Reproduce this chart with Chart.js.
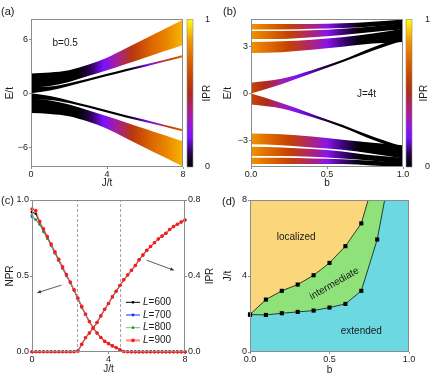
<!DOCTYPE html>
<html>
<head>
<meta charset="utf-8">
<script src="https://cdn.jsdelivr.net/npm/chart.js@4.4.1/dist/chart.umd.min.js"></script>
<style>
  html, body { margin: 0; padding: 0; background: #fff; }
  #page { position: relative; width: 436px; height: 379px; overflow: hidden; }
  canvas { position: absolute; }
</style>
</head>
<body>
<div id="page">
  <canvas id="chartA" width="218" height="190" style="left:0;top:0"></canvas>
  <canvas id="chartB" width="218" height="190" style="left:218px;top:0"></canvas>
  <canvas id="chartC" width="218" height="194" style="left:0;top:185px"></canvas>
  <canvas id="chartD" width="218" height="194" style="left:218px;top:185px"></canvas>
</div>
<script>
const AXIS = "#8c8c8c";
const TEXT = "#1a1a1a";
const FONT = "'Liberation Sans', Arial, sans-serif";

Chart.defaults.font.family = FONT;
Chart.defaults.font.size = 9;
Chart.defaults.color = TEXT;
Chart.defaults.animation = false;
Chart.defaults.devicePixelRatio = 1;

// ---------- data ----------

// IPR colour bar
const iprColours = [[0, "#000000"], [0.08, "#22003f"], [0.2, "#7a10ff"], [0.3, "#9a18d0"], [0.4, "#ad2279"],
  [0.5, "#ae2a1e"], [0.6, "#c44200"], [0.72, "#dc6400"], [0.85, "#f09400"], [1, "#ffff10"]];

// (a) spectrum against J/t, b = 0.5
const jA = [0, 1, 2, 3, 4, 5, 6, 7, 8];
const aUpperTop = [2.2, 2.3, 2.55, 3.15, 3.95, 5.0, 6.05, 7.1, 8.15];
const aUpperBot = [0.6, 0.8, 1.25, 1.9, 2.55, 3.25, 3.95, 4.65, 5.35];
const aArmTop = [0.7, 0.75, 1.1, 1.6, 2.15, 2.7, 3.2, 3.7, 4.25];
const aArmBot = [0.0, 0.3, 0.8, 1.35, 1.9, 2.45, 2.95, 3.5, 4.0];
const aLowArmTop = [0.0, -0.3, -0.8, -1.35, -1.9, -2.45, -2.95, -3.5, -4.0];
const aLowArmBot = [-0.7, -0.75, -1.1, -1.6, -2.15, -2.7, -3.2, -3.7, -4.25];
const aLowerTop = [-0.6, -0.8, -1.25, -1.9, -2.55, -3.25, -3.95, -4.65, -5.35];
const aLowerBot = [-2.2, -2.3, -2.55, -3.15, -3.95, -5.0, -6.05, -7.1, -8.15];
const jGap = [2.6, 4, 6, 8];
const aGapHi1 = [2.5, 3.45, 5.35, 7.4];
const aGapHi2 = [2.3, 3.0, 4.65, 6.5];
const aGapLo1 = [-2.5, -3.45, -5.35, -7.4];
const aGapLo2 = [-2.3, -3.0, -4.65, -6.5];
// IPR along J/t for the colours of the bands
const aBandIpr = [[0, 0], [2.5, 0], [3.2, 0.1], [3.8, 0.2], [4.5, 0.36], [5.3, 0.55], [6.3, 0.72], [7.2, 0.82], [8, 0.9]];
const aArmIpr = [[0, 0], [5.0, 0], [5.7, 0.12], [6.2, 0.22], [6.8, 0.42], [7.4, 0.6], [8, 0.74]];
const aXLabels = ["0", "4", "8"];
const aYTicks = [-6, 0, 6];

// (b) spectrum against b, J = 4t
const bB = [0, 0.2, 0.4, 0.6, 0.8, 1.0];
const bHiATop = [4.45, 4.45, 4.45, 4.5, 4.6, 4.75];
const bHiABot = [4.1, 4.1, 4.15, 4.2, 4.3, 4.45];
const bHiBTop = [4.0, 4.0, 4.05, 4.15, 4.3, 4.5];
const bHiBBot = [3.5, 3.5, 3.6, 3.75, 3.95, 4.1];
const bHiCTop = [3.3, 3.35, 3.45, 3.6, 3.85, 4.15];
const bHiCBot = [2.6, 2.65, 2.8, 3.0, 3.2, 3.3];
const bArmTop = [0.7, 0.95, 1.5, 2.15, 2.95, 3.65];
const bArmBot = [0.0, 0.6, 1.3, 2.0, 2.75, 3.4];
const bLowArmTop = [0.0, -0.6, -1.3, -2.0, -2.75, -3.4];
const bLowArmBot = [-0.7, -0.95, -1.5, -2.15, -2.95, -3.65];
const bLoCTop = [-2.55, -2.6, -2.75, -2.95, -3.15, -3.3];
const bLoCBot = [-3.25, -3.3, -3.45, -3.6, -3.85, -4.15];
const bLoBTop = [-3.4, -3.45, -3.55, -3.7, -3.95, -4.1];
const bLoBBot = [-4.0, -4.0, -4.05, -4.15, -4.3, -4.5];
const bLoATop = [-4.1, -4.1, -4.15, -4.2, -4.3, -4.45];
const bLoABot = [-4.5, -4.5, -4.5, -4.5, -4.6, -4.7];
const bBandIpr = [[0, 0.85], [0.1, 0.75], [0.25, 0.6], [0.4, 0.4], [0.5, 0.25], [0.6, 0.12], [0.72, 0], [1, 0]];
const bArmIpr = [[0, 0.62], [0.1, 0.5], [0.2, 0.35], [0.3, 0.22], [0.4, 0.15], [0.5, 0.06], [0.6, 0], [1, 0]];
const bXLabels = ["0.0", "0.5", "1.0"];
const bYTicks = [-3, 0, 3];

// (c) NPR and IPR against J/t
const jC = [0, 0.2, 0.4, 0.6, 0.8, 1.0, 1.2, 1.4, 1.6, 1.8, 2.0, 2.2, 2.4, 2.6, 2.8, 3.0, 3.2, 3.4, 3.6, 3.8, 4.0,
  4.2, 4.4, 4.6, 4.8, 5.0, 5.2, 5.4, 5.6, 5.8, 6.0, 6.2, 6.4, 6.6, 6.8, 7.0, 7.2, 7.4, 7.6, 7.8, 8.0];
const npr600 = [0.92, 0.91, 0.85, 0.805, 0.755, 0.705, 0.655, 0.605, 0.555, 0.505, 0.455, 0.405, 0.35, 0.295, 0.245,
  0.2, 0.16, 0.125, 0.095, 0.07, 0.055, 0.04, 0.028, 0.015, 0.004, 0.002, 0.001, 0.001, 0.001, 0.001, 0.001, 0.001,
  0.001, 0.001, 0.001, 0.001, 0.001, 0.001, 0.001, 0.001, 0.001];
const npr700 = [0.89, 0.87, 0.84, 0.795, 0.75, 0.70, 0.65, 0.60, 0.55, 0.50, 0.455, 0.405, 0.35, 0.295, 0.245,
  0.2, 0.16, 0.125, 0.095, 0.07, 0.055, 0.04, 0.028, 0.015, 0.004, 0.002, 0.001, 0.001, 0.001, 0.001, 0.001, 0.001,
  0.001, 0.001, 0.001, 0.001, 0.001, 0.001, 0.001, 0.001, 0.001];
const npr800 = [0.90, 0.87, 0.84, 0.79, 0.745, 0.70, 0.65, 0.60, 0.55, 0.505, 0.455, 0.405, 0.35, 0.295, 0.245,
  0.2, 0.16, 0.125, 0.095, 0.07, 0.055, 0.04, 0.028, 0.015, 0.004, 0.002, 0.001, 0.001, 0.001, 0.001, 0.001, 0.001,
  0.001, 0.001, 0.001, 0.001, 0.001, 0.001, 0.001, 0.001, 0.001];
const npr900 = [0.94, 0.93, 0.86, 0.81, 0.76, 0.71, 0.66, 0.61, 0.56, 0.51, 0.46, 0.41, 0.355, 0.30, 0.25,
  0.2, 0.16, 0.125, 0.095, 0.07, 0.055, 0.04, 0.028, 0.015, 0.003, 0.002, 0.001, 0.001, 0.001, 0.001, 0.001, 0.001,
  0.001, 0.001, 0.001, 0.001, 0.001, 0.001, 0.001, 0.001, 0.001];
const ipr600 = [0.001, 0.001, 0.001, 0.001, 0.001, 0.001, 0.001, 0.001, 0.001, 0.001, 0.002, 0.002, 0.006, 0.04,
  0.075, 0.1, 0.125, 0.155, 0.19, 0.225, 0.255, 0.29, 0.32, 0.35, 0.38, 0.405, 0.43, 0.455, 0.485, 0.51, 0.535,
  0.555, 0.575, 0.595, 0.61, 0.625, 0.645, 0.66, 0.672, 0.684, 0.695];
const ipr700 = [0.001, 0.001, 0.001, 0.001, 0.001, 0.001, 0.001, 0.001, 0.001, 0.001, 0.001, 0.002, 0.005, 0.04,
  0.075, 0.1, 0.125, 0.155, 0.19, 0.225, 0.255, 0.29, 0.32, 0.35, 0.38, 0.405, 0.43, 0.455, 0.485, 0.51, 0.535,
  0.555, 0.575, 0.595, 0.61, 0.625, 0.645, 0.66, 0.672, 0.684, 0.695];
const ipr800 = [0.001, 0.001, 0.001, 0.001, 0.001, 0.001, 0.001, 0.001, 0.001, 0.001, 0.001, 0.001, 0.005, 0.04,
  0.075, 0.1, 0.125, 0.155, 0.19, 0.225, 0.255, 0.29, 0.32, 0.35, 0.38, 0.405, 0.43, 0.455, 0.485, 0.51, 0.535,
  0.555, 0.575, 0.595, 0.61, 0.625, 0.645, 0.66, 0.672, 0.684, 0.695];
const ipr900 = [0.001, 0.001, 0.001, 0.001, 0.001, 0.001, 0.001, 0.001, 0.001, 0.001, 0.001, 0.001, 0.004, 0.04,
  0.075, 0.1, 0.125, 0.155, 0.19, 0.225, 0.255, 0.29, 0.32, 0.35, 0.38, 0.405, 0.43, 0.455, 0.485, 0.51, 0.535,
  0.555, 0.575, 0.595, 0.61, 0.625, 0.645, 0.66, 0.672, 0.684, 0.695];
const sizesL = ["600", "700", "800", "900"];
const transitions = [2.38, 4.63];
// arrows in (J/t, NPR) units
const arrowFrom = [[1.54, 0.44], [5.99, 0.604]];
const arrowTo = [[0.28, 0.39], [7.42, 0.538]];
const cLeftTicks = [0, 0.5, 1];
const cLeftLabels = ["0.0", "0.5", "1.0"];
const cRightTicks = [0, 0.4, 0.8];
const cRightLabels = ["0.0", "0.4", "0.8"];

// (d) phase diagram
const bUpper = [0, 0.1, 0.2, 0.3, 0.4, 0.5, 0.6, 0.7];
const jUpper = [1.97, 2.76, 3.22, 3.55, 4.04, 4.69, 5.57, 6.77];
const bLower = [0, 0.1, 0.2, 0.3, 0.4, 0.5, 0.6, 0.7, 0.8];
const jLower = [1.97, 1.95, 2.04, 2.11, 2.18, 2.34, 2.53, 3.22, 5.92];
const bUpperExit = 0.743;
const bLowerExit = 0.847;
const dYTicks = [0, 4, 8];
const dYLabels = ["0", "4", "8"];

// ---------- helpers ----------

function rgb(hex) {
  return [1, 3, 5].map(i => parseInt(hex.substr(i, 2), 16));
}

function cmap(v) {
  v = Math.max(0, Math.min(1, v));
  for (let i = 1; i < iprColours.length; i++) {
    const [v1, c1] = iprColours[i];
    const [v0, c0] = iprColours[i - 1];
    if (v <= v1) {
      const t = (v - v0) / (v1 - v0);
      const p = rgb(c0), q = rgb(c1);
      return "rgb(" + p.map((c, k) => Math.round(c + (q[k] - c) * t)).join(",") + ")";
    }
  }
  return iprColours[iprColours.length - 1][1];
}

function bandFill(stops) {
  return function (ctx) {
    const chart = ctx.chart;
    const xs = chart.scales.x;
    if (!chart.chartArea || !xs) return cmap(stops[0][1]);
    const g = chart.ctx.createLinearGradient(xs.left, 0, xs.right, 0);
    stops.forEach(s => {
      const pos = (s[0] - xs.min) / (xs.max - xs.min);
      g.addColorStop(Math.max(0, Math.min(1, pos)), cmap(s[1]));
    });
    return g;
  };
}

function pts(xs, ys) {
  return xs.map((x, i) => ({ x: x, y: ys[i] }));
}

function bandSets(xs, top, bot, stops) {
  return [
    { data: pts(xs, top), fill: "+1", backgroundColor: bandFill(stops), borderColor: "rgba(0,0,0,0)",
      borderWidth: 0, pointRadius: 0, cubicInterpolationMode: "monotone" },
    { data: pts(xs, bot), fill: false, borderColor: "rgba(0,0,0,0)", borderWidth: 0, pointRadius: 0,
      cubicInterpolationMode: "monotone" },
  ];
}

function lineSet(xs, ys, colour) {
  return { data: pts(xs, ys), fill: false, borderColor: colour, borderWidth: 0.8, pointRadius: 0,
    cubicInterpolationMode: "monotone" };
}

function fmtMinus(v) {
  return String(v).replace("-", "\u2212");
}

function xScale(min, max, ticks, labels, title, height, titlePad) {
  return {
    type: "linear", position: "bottom", min: min, max: max,
    afterBuildTicks: s => { s.ticks = ticks.map(v => ({ value: v })); },
    afterFit: s => { s.height = height; },
    ticks: { callback: (v, i) => labels[i], padding: 0, maxRotation: 0, minRotation: 0, autoSkip: false,
      font: { size: 9 } },
    grid: { drawOnChartArea: false, tickLength: 2, color: AXIS, lineWidth: 1 },
    border: { display: false },
    title: { display: true, text: title, font: { size: 10 }, padding: { top: 0, bottom: titlePad } },
  };
}

function yScale(min, max, ticks, labels, title, width) {
  return {
    type: "linear", position: "left", min: min, max: max,
    afterBuildTicks: s => { s.ticks = ticks.map(v => ({ value: v })); },
    afterFit: s => { s.width = width; },
    ticks: { callback: (v, i) => labels[i], padding: 1, autoSkip: false, font: { size: 9 } },
    grid: { drawOnChartArea: false, tickLength: 2, color: AXIS, lineWidth: 1 },
    border: { display: false },
    title: { display: true, text: title, font: { size: 10 }, padding: { top: 4, bottom: 0 } },
  };
}

function colourbarScale(width, pad) {
  return {
    type: "linear", position: "right", min: 0, max: 1,
    afterBuildTicks: s => { s.ticks = [{ value: 0 }, { value: 1 }]; },
    afterFit: s => { s.width = width; },
    ticks: { padding: pad, font: { size: 9 }, callback: v => String(v) },
    grid: { display: false },
    border: { display: false },
  };
}

function drawArrow(ctx, x1, y1, x2, y2) {
  const ang = Math.atan2(y2 - y1, x2 - x1);
  ctx.beginPath();
  ctx.moveTo(x1, y1);
  ctx.lineTo(x2, y2);
  ctx.stroke();
  ctx.beginPath();
  ctx.moveTo(x2, y2);
  ctx.lineTo(x2 - 4 * Math.cos(ang - 0.45), y2 - 4 * Math.sin(ang - 0.45));
  ctx.lineTo(x2 - 4 * Math.cos(ang + 0.45), y2 - 4 * Math.sin(ang + 0.45));
  ctx.closePath();
  ctx.fill();
}

// frame, panel letter, colour bar, notes, arrows, legend
const extras = {
  id: "extras",
  beforeDraw(chart, args, o) {
    if (!o.areaColour) return;
    const ctx = chart.ctx, a = chart.chartArea;
    ctx.save();
    ctx.fillStyle = o.areaColour;
    ctx.fillRect(a.left, a.top, a.right - a.left, a.bottom - a.top);
    ctx.restore();
  },
  afterDraw(chart, args, o) {
    const ctx = chart.ctx, a = chart.chartArea;
    const xs = chart.scales.x, ys = chart.scales.y;
    ctx.save();
    ctx.strokeStyle = AXIS;
    ctx.lineWidth = 1;
    ctx.strokeRect(Math.round(a.left) + 0.5, Math.round(a.top) + 0.5,
      Math.round(a.right - a.left) - 1, Math.round(a.bottom - a.top) - 1);

    ctx.fillStyle = TEXT;
    ctx.textAlign = "left";
    ctx.textBaseline = "middle";
    if (o.letter) {
      ctx.font = "11px " + FONT;
      ctx.fillText(o.letter[0], o.letter[1], o.letter[2]);
    }

    if (o.colourbar) {
      const x0 = a.right + o.colourbar.gap;
      const g = ctx.createLinearGradient(0, a.bottom, 0, a.top);
      iprColours.forEach(c => g.addColorStop(c[0], c[1]));
      ctx.fillStyle = g;
      ctx.fillRect(x0, a.top, o.colourbar.width, a.bottom - a.top);
      ctx.strokeStyle = AXIS;
      ctx.lineWidth = 0.6;
      ctx.strokeRect(x0, a.top, o.colourbar.width, a.bottom - a.top);
      ctx.fillStyle = TEXT;
    }

    if (o.rightTitle) {
      ctx.save();
      ctx.font = "10px " + FONT;
      ctx.textAlign = "center";
      ctx.translate(o.rightTitle.x, (a.top + a.bottom) / 2);
      ctx.rotate(-Math.PI / 2);
      ctx.fillText(o.rightTitle.text, 0, 0);
      ctx.restore();
    }

    (o.notes || []).forEach(n => {
      ctx.save();
      ctx.font = "10px " + FONT;
      ctx.textAlign = "center";
      ctx.translate(xs.getPixelForValue(n.x), ys.getPixelForValue(n.y));
      ctx.rotate((n.rot || 0) * Math.PI / 180);
      ctx.fillText(n.text, 0, 0);
      ctx.restore();
    });

    if (o.arrows) {
      ctx.strokeStyle = "#333";
      ctx.fillStyle = "#333";
      ctx.lineWidth = 0.8;
      o.arrows.from.forEach((f, i) => {
        const t = o.arrows.to[i];
        drawArrow(ctx, xs.getPixelForValue(f[0]), ys.getPixelForValue(f[1]),
          xs.getPixelForValue(t[0]), ys.getPixelForValue(t[1]));
      });
    }

    if (o.legend) {
      const L = o.legend;
      L.items.forEach((it, i) => {
        const y = L.y + i * L.dy;
        ctx.strokeStyle = it.line;
        ctx.lineWidth = it.width;
        ctx.beginPath();
        ctx.moveTo(L.x, y);
        ctx.lineTo(L.x + 14, y);
        ctx.stroke();
        ctx.fillStyle = it.colour;
        ctx.beginPath();
        ctx.arc(L.x + 7, y, it.radius, 0, Math.PI * 2);
        ctx.fill();
        ctx.fillStyle = TEXT;
        ctx.textAlign = "left";
        ctx.font = "italic 10px " + FONT;
        ctx.fillText("L", L.x + 17, y);
        const w = ctx.measureText("L").width;
        ctx.font = "10px " + FONT;
        ctx.fillText("=" + it.text, L.x + 17 + w, y);
      });
    }
    ctx.restore();
  },
};

const baseOptions = {
  responsive: false,
  maintainAspectRatio: false,
  events: [],
  plugins: { legend: { display: false }, tooltip: { enabled: false } },
};

// ---------- (a) ----------
new Chart(document.getElementById("chartA"), {
  type: "line",
  data: {
    datasets: [
      ...bandSets(jA, aUpperTop, aUpperBot, aBandIpr),
      ...bandSets(jA, aArmTop, aArmBot, aArmIpr),
      ...bandSets(jA, aLowArmTop, aLowArmBot, aArmIpr),
      ...bandSets(jA, aLowerTop, aLowerBot, aBandIpr),
      lineSet(jGap, aGapHi1, "#ffffff"),
      lineSet(jGap, aGapHi2, "#8a2cf0"),
      lineSet(jGap, aGapLo1, "#ffffff"),
      lineSet(jGap, aGapLo2, "#8a2cf0"),
    ],
  },
  options: {
    ...baseOptions,
    layout: { padding: { top: 8, left: 0, right: 0, bottom: 0 } },
    scales: {
      x: xScale(0, 8, [0, 4, 8], aXLabels, "J/t", 23, 1),
      y: yScale(-8.2, 8.2, aYTicks, aYTicks.map(fmtMinus), "E/t", 31),
      cb: colourbarScale(35, 14),
    },
    plugins: {
      ...baseOptions.plugins,
      extras: {
        letter: ["(a)", 1, 12],
        colourbar: { gap: 4, width: 6 },
        rightTitle: { text: "IPR", x: 207 },
        notes: [{ text: "b=0.5", x: 1.8, y: 5.6 }],
      },
    },
  },
  plugins: [extras],
});

// ---------- (b) ----------
new Chart(document.getElementById("chartB"), {
  type: "line",
  data: {
    datasets: [
      ...bandSets(bB, bHiATop, bHiABot, bBandIpr),
      ...bandSets(bB, bHiBTop, bHiBBot, bBandIpr),
      ...bandSets(bB, bHiCTop, bHiCBot, bBandIpr),
      ...bandSets(bB, bArmTop, bArmBot, bArmIpr),
      ...bandSets(bB, bLowArmTop, bLowArmBot, bArmIpr),
      ...bandSets(bB, bLoCTop, bLoCBot, bBandIpr),
      ...bandSets(bB, bLoBTop, bLoBBot, bBandIpr),
      ...bandSets(bB, bLoATop, bLoABot, bBandIpr),
    ],
  },
  options: {
    ...baseOptions,
    layout: { padding: { top: 8, left: 0, right: 0, bottom: 0 } },
    scales: {
      x: xScale(0, 1, [0, 0.5, 1], bXLabels, "b", 23, 1),
      y: yScale(-4.7, 4.75, bYTicks, bYTicks.map(fmtMinus), "E/t", 33),
      cb: colourbarScale(33, 14),
    },
    plugins: {
      ...baseOptions.plugins,
      extras: {
        letter: ["(b)", 5, 12],
        colourbar: { gap: 3, width: 6 },
        rightTitle: { text: "IPR", x: 206 },
        notes: [{ text: "J=4t", x: 0.76, y: -0.05 }],
      },
    },
  },
  plugins: [extras],
});

// ---------- (c) ----------
const cColours = ["#000000", "#1030ff", "#2a9a2a", "#ff1a1a"];
const cLines = ["#000000", "#1030ff", "#6cc46c", "rgba(255,70,70,0.55)"];
const cNpr = [npr600, npr700, npr800, npr900];
const cIpr = [ipr600, ipr700, ipr800, ipr900];
const cDatasets = [];
sizesL.forEach((size, i) => {
  const common = {
    borderColor: cLines[i], backgroundColor: cColours[i], pointBackgroundColor: cColours[i],
    pointBorderWidth: 0, pointRadius: i === 3 ? 1.8 : 1.3, borderWidth: i === 3 ? 1.6 : 0.9,
    fill: false, order: 3 - i, clip: 4,
  };
  cDatasets.push({ ...common, data: pts(jC, cNpr[i]), yAxisID: "y" });
  cDatasets.push({ ...common, data: pts(jC, cIpr[i]), yAxisID: "y2" });
});
transitions.forEach(j => {
  cDatasets.push({ data: [{ x: j, y: 0 }, { x: j, y: 1 }], yAxisID: "y", borderColor: "#999",
    borderDash: [3, 2], borderWidth: 0.9, pointRadius: 0, fill: false, order: 10 });
});

new Chart(document.getElementById("chartC"), {
  type: "line",
  data: { datasets: cDatasets },
  options: {
    ...baseOptions,
    layout: { padding: { top: 15, left: 0, right: 0, bottom: 0 } },
    scales: {
      x: xScale(0, 8, [0, 4, 8], aXLabels, "J/t", 27, 4),
      y: yScale(0, 1, cLeftTicks, cLeftLabels, "NPR", 32),
      y2: {
        type: "linear", position: "right", min: 0, max: 0.8,
        afterBuildTicks: s => { s.ticks = cRightTicks.map(v => ({ value: v })); },
        afterFit: s => { s.width = 33; },
        ticks: { callback: (v, i) => cRightLabels[i], padding: 1, autoSkip: false, font: { size: 9 } },
        grid: { drawOnChartArea: false, tickLength: 2, color: AXIS },
        border: { display: false },
      },
    },
    plugins: {
      ...baseOptions.plugins,
      extras: {
        letter: ["(c)", 1, 16],
        rightTitle: { text: "IPR", x: 210 },
        arrows: { from: arrowFrom, to: arrowTo },
        legend: {
          x: 126, y: 117.3, dy: 12.7,
          items: sizesL.map((s, i) => ({ text: s, colour: cColours[i], line: cLines[i],
            width: i === 3 ? 2.4 : 1, radius: i === 3 ? 1.8 : 1.4 })),
        },
      },
    },
  },
  plugins: [extras],
});

// ---------- (d) ----------
const upperPts = pts(bUpper, jUpper).concat([{ x: bUpperExit, y: 8 }]);
const lowerPts = pts(bLower, jLower).concat([{ x: bLowerExit, y: 8 }]);

new Chart(document.getElementById("chartD"), {
  type: "line",
  data: {
    datasets: [
      { data: upperPts, fill: "end", backgroundColor: "#fbd67a", borderColor: "#111", borderWidth: 0.8,
        pointStyle: "rect", pointBackgroundColor: "#000", pointBorderWidth: 0, tension: 0, clip: 5,
        pointRadius: ctx => (ctx.dataIndex < bUpper.length ? 2.9 : 0) },
      { data: lowerPts, fill: "end", backgroundColor: "#8ee279", borderColor: "#111", borderWidth: 0.8,
        pointStyle: "rect", pointBackgroundColor: "#000", pointBorderWidth: 0, tension: 0, clip: 5,
        pointRadius: ctx => (ctx.dataIndex < bLower.length ? 2.9 : 0) },
    ],
  },
  options: {
    ...baseOptions,
    layout: { padding: { top: 15, left: 0, right: 0, bottom: 0 } },
    scales: {
      x: xScale(0, 1, [0, 0.5, 1], bXLabels, "b", 27, 3),
      y: yScale(0, 8, dYTicks, dYLabels, "J/t", 32),
      r: { type: "linear", position: "right", display: true, afterFit: s => { s.width = 27; },
        ticks: { display: false }, grid: { display: false }, border: { display: false } },
    },
    plugins: {
      ...baseOptions.plugins,
      extras: {
        letter: ["(d)", 4, 17],
        areaColour: "#6cd8e2",
        notes: [
          { text: "localized", x: 0.29, y: 6.06 },
          { text: "intermediate", x: 0.53, y: 3.6, rot: -30 },
          { text: "extended", x: 0.7, y: 1.1 },
        ],
      },
    },
  },
  plugins: [extras],
});
</script>
</body>
</html>
